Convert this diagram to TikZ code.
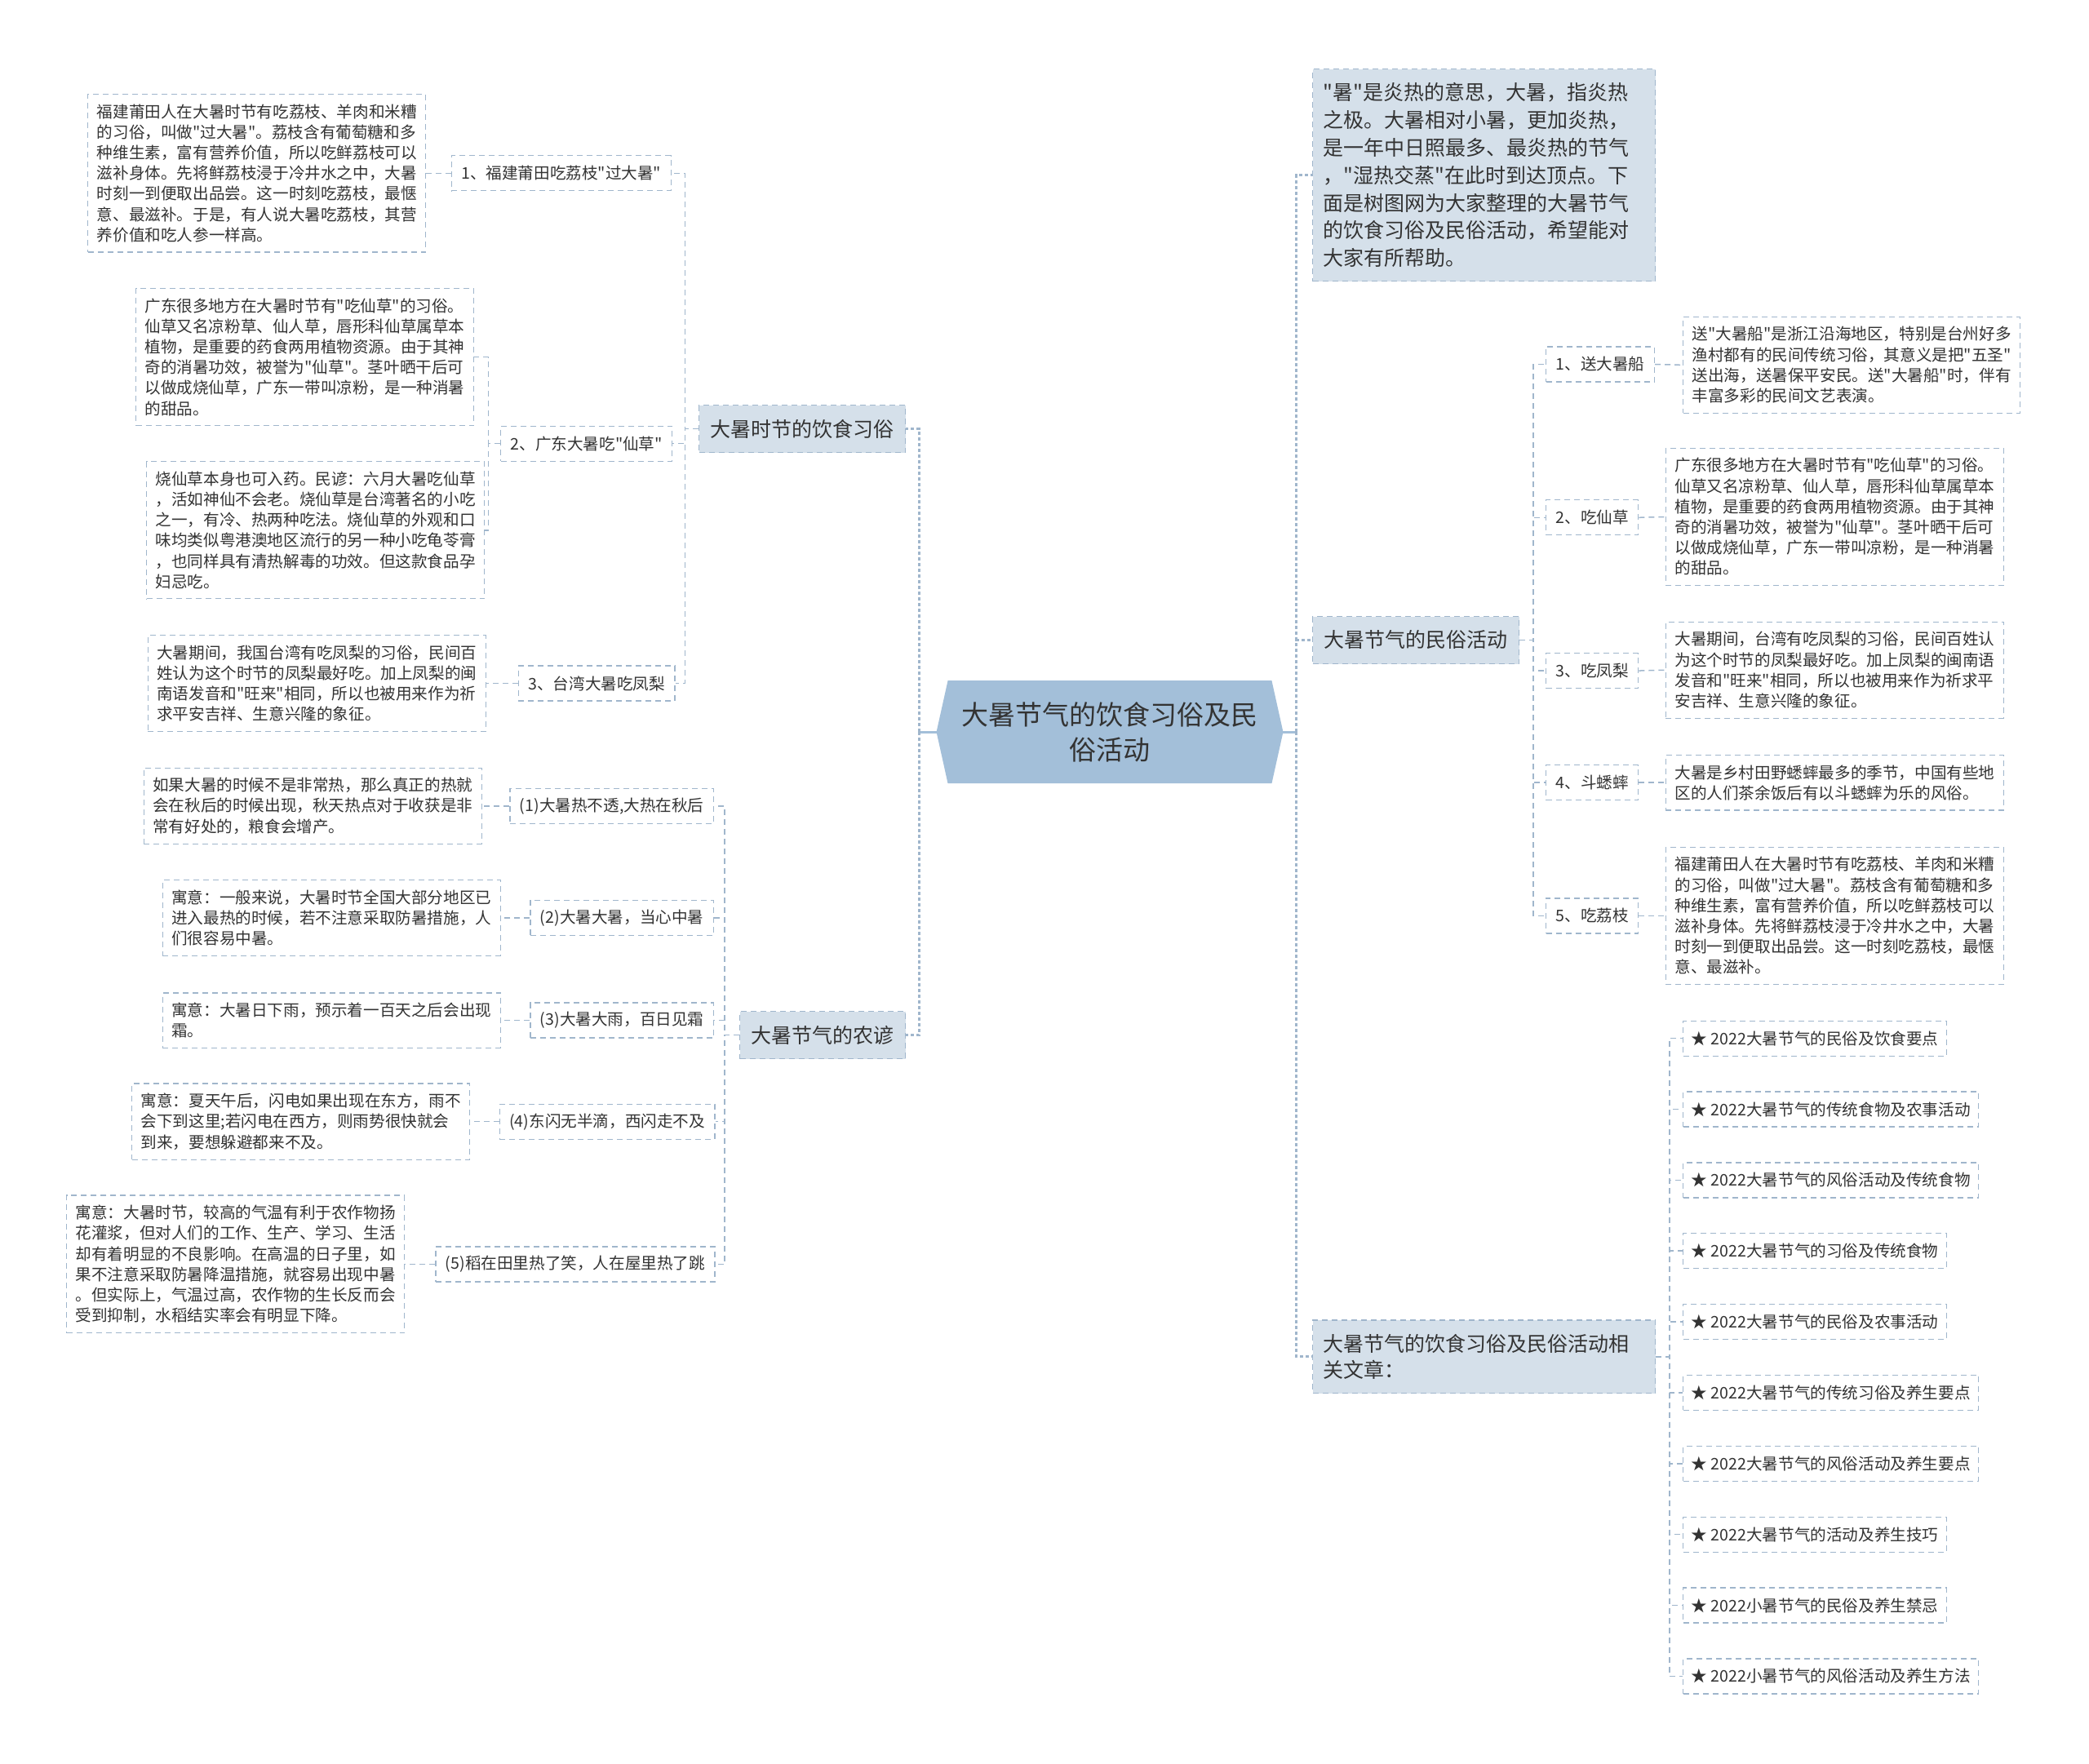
\documentclass[tikz,border=0pt]{standalone}
\usepackage{fontspec}
\setmainfont{Noto Sans CJK SC}[Ligatures=TeXOff]
\usetikzlibrary{backgrounds}

\definecolor{linec}{RGB}{160,182,204}
\definecolor{topicfill}{RGB}{213,224,234}
\definecolor{rootfill}{RGB}{163,191,217}
\definecolor{txt}{RGB}{51,51,51}

\tikzset{
  box/.style={draw=linec, line width=1.3pt, dash pattern=on 7pt off 5pt, text=txt},
  topic/.style={box, fill=topicfill, font=\fontsize{25pt}{32pt}\selectfont, inner xsep=14pt, minimum height=58pt},
  intro/.style={box, fill=topicfill, font=\fontsize{25pt}{33.8pt}\selectfont, align=left, text width=394pt, inner xsep=13pt, inner ysep=16pt},
  leaf/.style={box, fill=white, font=\fontsize{19.6pt}{25.2pt}\selectfont, inner xsep=12pt, minimum height=43pt},
  note/.style={box, fill=white, font=\fontsize{19.6pt}{25.2pt}\selectfont, align=left, inner xsep=11pt, inner ysep=12pt},
  link/.style={draw=linec, line width=1.5pt, dash pattern=on 7pt off 5pt},
  mainlink/.style={draw=linec, line width=3pt, dash pattern=on 4pt off 3pt},
  trunk/.style={draw=rootfill, line width=3pt},
}

\begin{document}
\begin{tikzpicture}[x=1.6327pt, y=-1.6327pt]
    \useasboundingbox (0,0) rectangle (1568,1324);

    % Central topic
    \node[text=txt, font=\fontsize{33pt}{43pt}\selectfont, align=center,
          minimum width=424.5pt, minimum height=125.7pt] (root) at (833,549.5)
          {大暑节气的饮食习俗及民\\俗活动};
    \begin{scope}[on background layer]
        \fill[rootfill] (root.west) -- ([xshift=14pt]root.north west)
            -- ([xshift=-14pt]root.north east) -- (root.east)
            -- ([xshift=-14pt]root.south east) -- ([xshift=14pt]root.south west) -- cycle;
    \end{scope}

    % Left branches
    \node[topic, anchor=east] (diet) at (680,322) {大暑时节的饮食习俗};
    \node[topic, anchor=east] (saying) at (680,777) {大暑节气的农谚};

    \node[leaf, anchor=east] (lizhi) at (504,130) {1、福建莆田吃荔枝"过大暑"};
    \node[leaf, anchor=east] (xiancao) at (505,333) {2、广东大暑吃"仙草"};
    \node[leaf, anchor=east] (fengli) at (507,513) {3、台湾大暑吃凤梨};

    \node[note, anchor=east] (lizhinote) at (320,130) {福建莆田人在大暑时节有吃荔枝、羊肉和米糟\\的习俗，叫做"过大暑"。荔枝含有葡萄糖和多\\种维生素，富有营养价值，所以吃鲜荔枝可以\\滋补身体。先将鲜荔枝浸于冷井水之中，大暑\\时刻一到便取出品尝。这一时刻吃荔枝，最惬\\意、最滋补。于是，有人说大暑吃荔枝，其营\\养价值和吃人参一样高。};
    \node[note, anchor=east] (xiancaoA) at (356,268) {广东很多地方在大暑时节有"吃仙草"的习俗。\\仙草又名凉粉草、仙人草，唇形科仙草属草本\\植物，是重要的药食两用植物资源。由于其神\\奇的消暑功效，被誉为"仙草"。茎叶晒干后可\\以做成烧仙草，广东一带叫凉粉，是一种消暑\\的甜品。};
    \node[note, anchor=east] (xiancaoB) at (364,398) {烧仙草本身也可入药。民谚：六月大暑吃仙草\\，活如神仙不会老。烧仙草是台湾著名的小吃\\之一，有冷、热两种吃法。烧仙草的外观和口\\味均类似粤港澳地区流行的另一种小吃龟苓膏\\，也同样具有清热解毒的功效。但这款食品孕\\妇忌吃。};
    \node[note, anchor=east] (fenglinote) at (365,513) {大暑期间，我国台湾有吃凤梨的习俗，民间百\\姓认为这个时节的凤梨最好吃。加上凤梨的闽\\南语发音和"旺来"相同，所以也被用来作为祈\\求平安吉祥、生意兴隆的象征。};

    \node[leaf, anchor=east] (say1) at (536,605) {(1)大暑热不透,大热在秋后};
    \node[leaf, anchor=east] (say2) at (536,689) {(2)大暑大暑，当心中暑};
    \node[leaf, anchor=east] (say3) at (536,766) {(3)大暑大雨，百日见霜};
    \node[leaf, anchor=east] (say4) at (537,842) {(4)东闪无半滴，西闪走不及};
    \node[leaf, anchor=east] (say5) at (537,949) {(5)稻在田里热了笑，人在屋里热了跳};

    \node[note, anchor=east] (say1note) at (362,605) {如果大暑的时候不是非常热，那么真正的热就\\会在秋后的时候出现，秋天热点对于收获是非\\常有好处的，粮食会增产。};
    \node[note, anchor=east] (say2note) at (376,689) {寓意：一般来说，大暑时节全国大部分地区已\\进入最热的时候，若不注意采取防暑措施，人\\们很容易中暑。};
    \node[note, anchor=east] (say3note) at (376,766) {寓意：大暑日下雨，预示着一百天之后会出现\\霜。};
    \node[note, anchor=east] (say4note) at (353,842) {寓意：夏天午后，闪电如果出现在东方，雨不\\会下到这里;若闪电在西方，则雨势很快就会\\到来，要想躲避都来不及。};
    \node[note, anchor=east] (say5note) at (304,949) {寓意：大暑时节，较高的气温有利于农作物扬\\花灌浆，但对人们的工作、生产、学习、生活\\却有着明显的不良影响。在高温的日子里，如\\果不注意采取防暑降温措施，就容易出现中暑\\。但实际上，气温过高，农作物的生长反而会\\受到抑制，水稻结实率会有明显下降。};

    % Right branches
    \node[intro, anchor=west, minimum height=260pt] (intro) at (985,131.5) {"暑"是炎热的意思，大暑，指炎热\\之极。大暑相对小暑，更加炎热，\\是一年中日照最多、最炎热的节气\\，"湿热交蒸"在此时到达顶点。下\\面是树图网为大家整理的大暑节气\\的饮食习俗及民俗活动，希望能对\\大家有所帮助。};
    \node[topic, anchor=west] (folk) at (985,480.5) {大暑节气的民俗活动};
    \node[intro, anchor=west, font=\fontsize{25pt}{32.7pt}\selectfont, inner ysep=17pt] (related) at (985,1018.5) {大暑节气的饮食习俗及民俗活动相\\关文章：};

    \node[leaf, anchor=west] (boat) at (1160,273.5) {1、送大暑船};
    \node[leaf, anchor=west] (grass) at (1160,388.5) {2、吃仙草};
    \node[leaf, anchor=west] (pine) at (1160,503.5) {3、吃凤梨};
    \node[leaf, anchor=west] (cricket) at (1160,587.5) {4、斗蟋蟀};
    \node[leaf, anchor=west] (litchi) at (1160,687.5) {5、吃荔枝};

    \node[note, anchor=west] (boatnote) at (1263,274) {送"大暑船"是浙江沿海地区，特别是台州好多\\渔村都有的民间传统习俗，其意义是把"五圣"\\送出海，送暑保平安民。送"大暑船"时，伴有\\丰富多彩的民间文艺表演。};
    \node[note, anchor=west] (grassnote) at (1250,388) {广东很多地方在大暑时节有"吃仙草"的习俗。\\仙草又名凉粉草、仙人草，唇形科仙草属草本\\植物，是重要的药食两用植物资源。由于其神\\奇的消暑功效，被誉为"仙草"。茎叶晒干后可\\以做成烧仙草，广东一带叫凉粉，是一种消暑\\的甜品。};
    \node[note, anchor=west] (pinenote) at (1250,503) {大暑期间，台湾有吃凤梨的习俗，民间百姓认\\为这个时节的凤梨最好吃。加上凤梨的闽南语\\发音和"旺来"相同，所以也被用来作为祈求平\\安吉祥、生意兴隆的象征。};
    \node[note, anchor=west] (cricketnote) at (1250,587.5) {大暑是乡村田野蟋蟀最多的季节，中国有些地\\区的人们茶余饭后有以斗蟋蟀为乐的风俗。};
    \node[note, anchor=west] (litchinote) at (1250,687.5) {福建莆田人在大暑时节有吃荔枝、羊肉和米糟\\的习俗，叫做"过大暑"。荔枝含有葡萄糖和多\\种维生素，富有营养价值，所以吃鲜荔枝可以\\滋补身体。先将鲜荔枝浸于冷井水之中，大暑\\时刻一到便取出品尝。这一时刻吃荔枝，最惬\\意、最滋补。};

    % Related articles
    \foreach \txt [count=\i] in {★ 2022大暑节气的民俗及饮食要点, ★ 2022大暑节气的传统食物及农事活动,
        ★ 2022大暑节气的风俗活动及传统食物, ★ 2022大暑节气的习俗及传统食物,
        ★ 2022大暑节气的民俗及农事活动, ★ 2022大暑节气的传统习俗及养生要点,
        ★ 2022大暑节气的风俗活动及养生要点, ★ 2022大暑节气的活动及养生技巧,
        ★ 2022小暑节气的民俗及养生禁忌, ★ 2022小暑节气的风俗活动及养生方法}
    {
        \node[leaf, anchor=west, inner xsep=10pt] (item\i) at (1263,{779.5+53.2*(\i-1)}) {\txt};
        \draw[link] (related.east) -- ++(10,0) |- (item\i.west);
    }

    % Connectors from the centre
    \draw[trunk] (root.west) -- ++(-13,0) coordinate (lspine);
    \draw[trunk] (root.east) -- ++(10,0) coordinate (rspine);
    \draw[mainlink] (lspine) |- (diet.east);
    \draw[mainlink] (lspine) |- (saying.east);
    \draw[mainlink] (rspine) |- (intro.west);
    \draw[mainlink] (rspine) |- (folk.west);
    \draw[mainlink] (rspine) |- (related.west);

    % Connectors on the left
    \foreach \n in {lizhi, xiancao, fengli}
        \draw[link] (diet.west) -- ++(-10,0) |- (\n.east);
    \draw[link] (lizhi.west) -- (lizhinote.east);
    \draw[link] (xiancao.west) -- ++(-9,0) |- (xiancaoA.east);
    \draw[link] (xiancao.west) -- ++(-9,0) |- (xiancaoB.east);
    \draw[link] (fengli.west) -- (fenglinote.east);
    \foreach \n in {say1, say2, say3, say4, say5}
    {
        \draw[link] (saying.west) -- ++(-11,0) |- (\n.east);
        \draw[link] (\n.west) -- (\n note.east);
    }

    % Connectors on the right
    \foreach \n in {boat, grass, pine, cricket, litchi}
    {
        \draw[link] (folk.east) -- ++(10,0) |- (\n.west);
        \draw[link] (\n.east) -- (\n note.west);
    }
\end{tikzpicture}
\end{document}
